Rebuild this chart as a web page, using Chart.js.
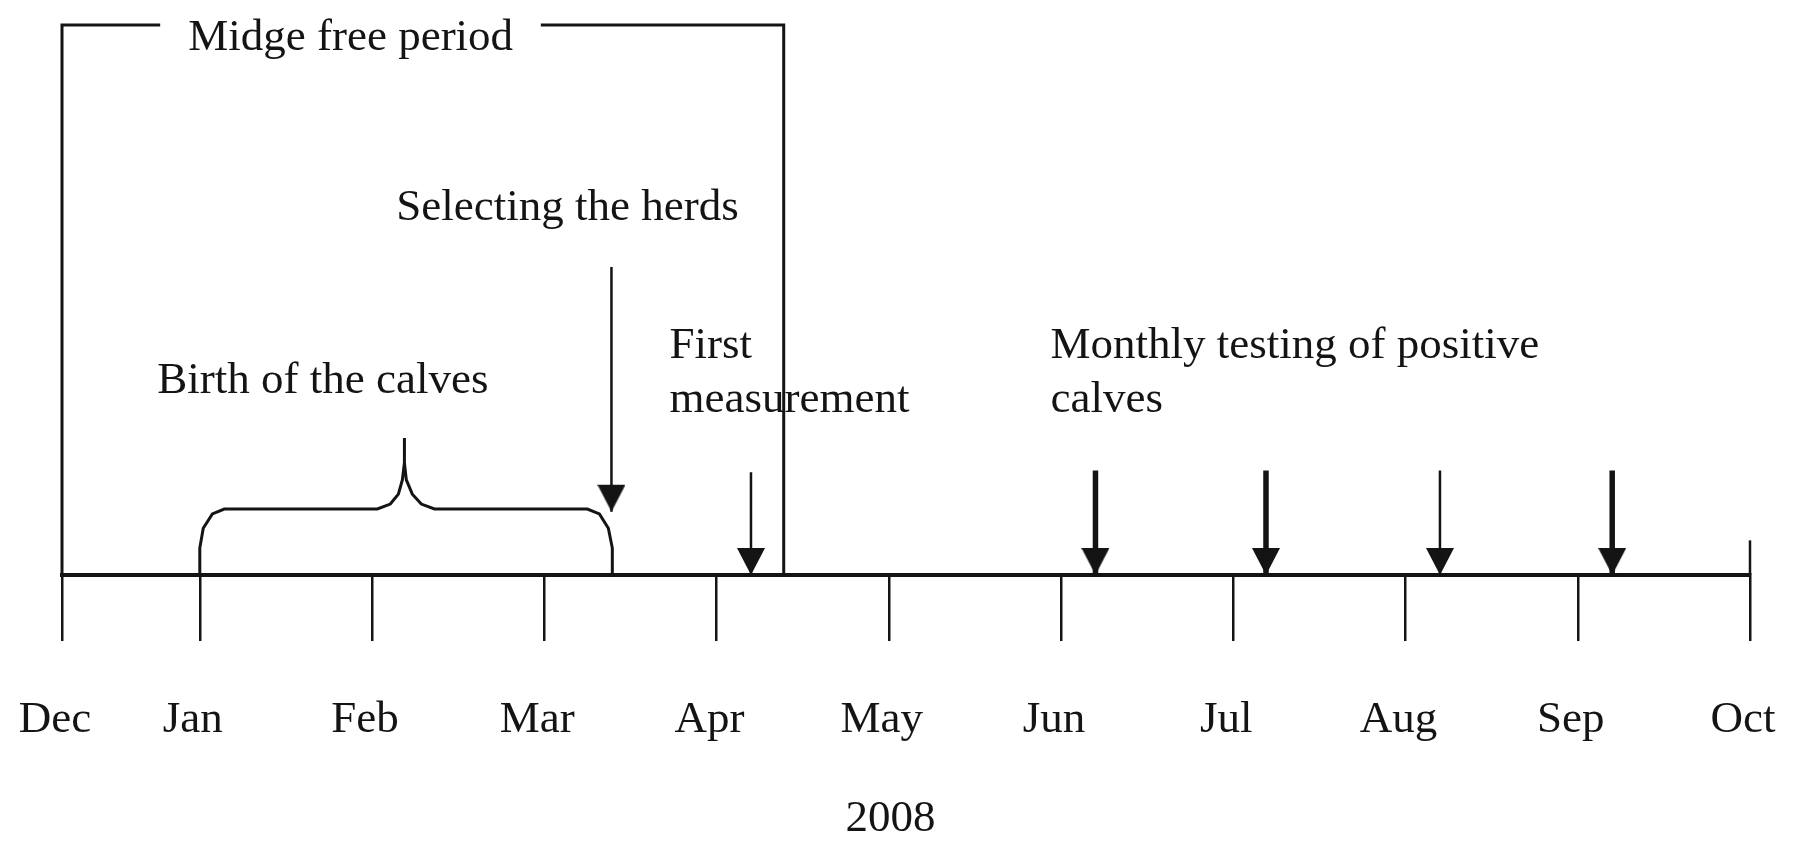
<!DOCTYPE html>
<html>
<head>
<meta charset="utf-8">
<script src="https://cdn.jsdelivr.net/npm/chart.js@4.4.1/dist/chart.umd.min.js"></script>
<style>
  html, body { margin: 0; padding: 0; background: #fff; }
  #c { display: block; }
</style>
</head>
<body>
<canvas id="c" width="1796" height="849"></canvas>
<script>
// months along the time line (Dec 2007 .. Oct 2008), Dec sits closer to Jan
var monthNames = ['Dec', 'Jan', 'Feb', 'Mar', 'Apr', 'May', 'Jun', 'Jul', 'Aug', 'Sep', 'Oct'];
var monthPos   = [0.2, 1, 2, 3, 4, 5, 6, 7, 8, 9, 10];
var yearLabel  = '2008';
var yearPos    = [5.01, -46.5]; // centre of the year caption, under the axis

// midge free period frame (month position, height)
var frameX = [0.2, 0.2, 0.77, 1.9, 2.98, 4.39, 4.39];
var frameY = [0, 100, 100, null, 100, 100, 0];

// curly brace over the birth period
var braceX = [1.0, 1.0, 1.02, 1.073, 1.142, 2.031, 2.106, 2.153, 2.176, 2.188, 2.188, 2.188, 2.199, 2.234, 2.286, 2.362, 3.25, 3.32, 3.372, 3.395, 3.395];
var braceY = [0, 4.9, 8.5, 11.1, 12, 12, 12.9, 14.7, 17.3, 20.4, 24.9, 20.4, 17.3, 14.7, 12.9, 12, 12, 11.1, 8.5, 4.9, 0];

// Oct end mark above the line
var endX = [10, 10];
var endY = [0, 6.3];

// arrows: selecting herds, first measurement, monthly tests
var arrowX    = [3.39, 4.2, 6.2, 7.19, 8.2, 9.2];
var arrowTop  = [56, 18.7, 19, 19, 19, 19];
var arrowTip  = [11.5, 0, 0, 0, 0, 0];
var arrowBold = [false, false, true, true, false, true];

// annotations
var noteText = ['Midge free period', 'Selecting the herds', 'Birth of the calves', 'First', 'measurement', 'Monthly testing of positive', 'calves'];
var noteX    = [0.933, 2.141, 0.753, 3.727, 3.727, 5.939, 5.939];
var noteY    = [95.5, 64.5, 33.1, 39.5, 29.6, 39.5, 29.6];

var INK = '#141414';
var FONT = '"Liberation Serif", "Times New Roman", serif';

function pts(xs, ys){
	var out = [];
	for (var i = 0; i < xs.length; i++) out.push({ x: xs[i], y: ys[i] });
	return out;
}

function shafts(bold){
	var out = [];
	for (var i = 0; i < arrowX.length; i++){
		if (arrowBold[i] != bold) continue;
		if (out.length) out.push({ x: arrowX[i] - 0.5, y: null });
		out.push({ x: arrowX[i], y: arrowTop[i] });
		out.push({ x: arrowX[i], y: arrowTip[i] });
	}
	return out;
}

// arrow head image, tip sits on the data point
var head = document.createElement('canvas');
head.width = 28; head.height = 56;
(function(h){
	h.fillStyle = INK;
	h.beginPath();
	h.moveTo(0, 1); h.lineTo(28, 1); h.lineTo(14, 28);
	h.closePath();
	h.fill();
})(head.getContext('2d'));

var line = function(data, w){
	return { data: data, borderColor: INK, borderWidth: w, pointRadius: 0, fill: false, tension: 0, spanGaps: false, clip: false };
};

var notesPlugin = {
	id: 'notes',
	afterDatasetsDraw: function(chart){
		var ctx = chart.ctx, xs = chart.scales.x, ys = chart.scales.y;
		ctx.save();
		ctx.font = '45px ' + FONT;
		ctx.fillStyle = INK;
		ctx.textAlign = 'left';
		ctx.textBaseline = 'alphabetic';
		for (var i = 0; i < noteText.length; i++){
			ctx.fillText(noteText[i], xs.getPixelForValue(noteX[i]), ys.getPixelForValue(noteY[i]));
		}
		// year caption
		ctx.textAlign = 'center';
		ctx.fillText(yearLabel, xs.getPixelForValue(yearPos[0]), ys.getPixelForValue(yearPos[1]));
		ctx.restore();
	}
};

new Chart(document.getElementById('c').getContext('2d'), {
	type: 'line',
	data: {
		datasets: [
			line(pts(frameX, frameY), 3),
			line(pts(braceX, braceY), 3),
			line(pts(endX, endY), 2.5),
			line(shafts(false), 2.5),
			line(shafts(true), 5.5),
			{
				data: pts(arrowX, arrowTip),
				showLine: false,
				pointStyle: head,
				pointRadius: 14,
				clip: false
			}
		]
	},
	options: {
		responsive: false,
		animation: false,
		layout: { padding: { left: 62, right: 46, top: 25, bottom: 0 } },
		plugins: { legend: { display: false }, tooltip: { enabled: false } },
		scales: {
			x: {
				type: 'linear',
				min: monthPos[0],
				max: monthPos[monthPos.length - 1],
				afterBuildTicks: function(s){
					s.ticks = monthPos.map(function(v){ return { value: v }; });
				},
				afterFit: function(s){
					// keep the line from Dec to Oct, labels may overhang
					s.paddingLeft = 0;
					s.paddingRight = 0;
					s.height = 274;
				},
				ticks: {
					autoSkip: false,
					maxRotation: 0,
					padding: 52,
					labelOffset: -7,
					color: INK,
					font: { family: FONT, size: 45 },
					callback: function(v, i){ return monthNames[i]; }
				},
				grid: { drawOnChartArea: false, drawTicks: true, tickLength: 66, lineWidth: 2.5, color: INK },
				border: { display: true, width: 4, color: INK }
			},
			y: { display: false, min: 0, max: 100 }
		}
	},
	plugins: [notesPlugin]
});
</script>
</body>
</html>
